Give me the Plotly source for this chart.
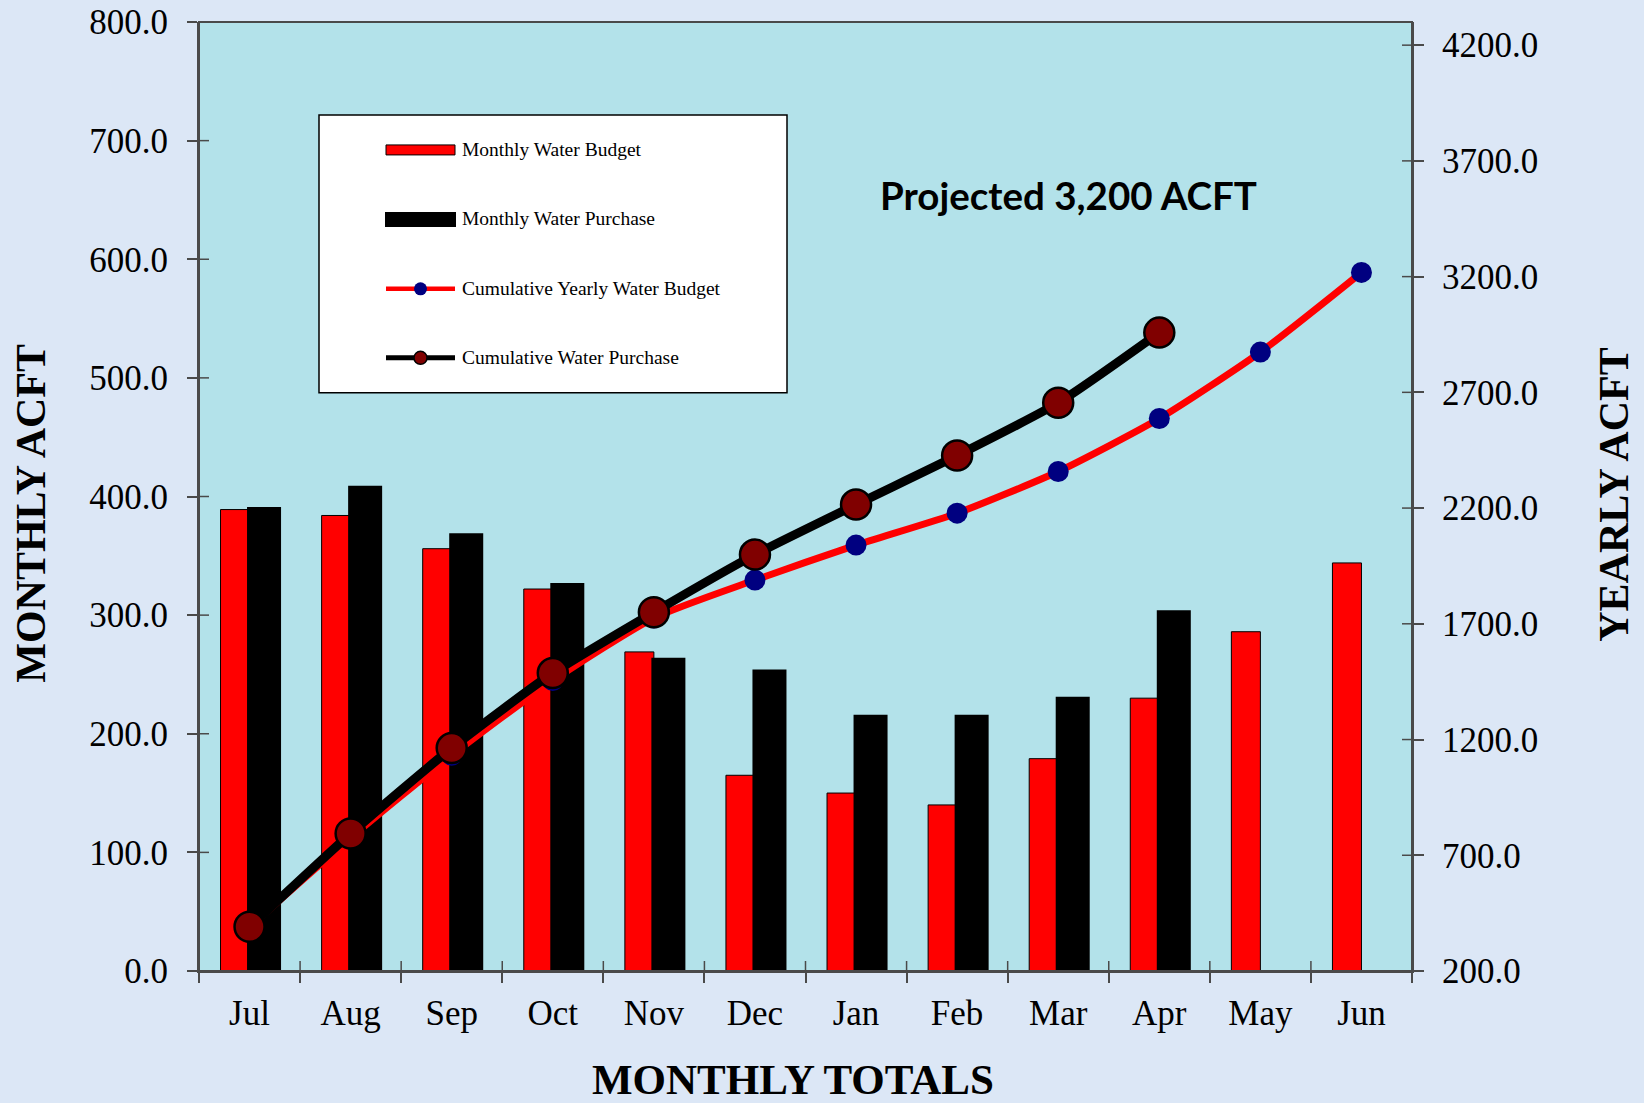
import plotly.graph_objects as go

# ---- data -------------------------------------------------------------
months = ["Jul", "Aug", "Sep", "Oct", "Nov", "Dec",
          "Jan", "Feb", "Mar", "Apr", "May", "Jun"]

monthly_budget = [389, 384, 356, 322, 269, 165, 150, 140, 179, 230, 286, 344]
monthly_purchase = [389, 407, 367, 325, 262, 252, 214, 214, 229, 302]

cumulative_budget = [390, 775, 1132, 1455, 1725, 1889, 2040, 2178, 2358, 2587, 2874, 3218]
cumulative_purchase = [391, 794, 1163, 1487, 1750, 1999, 2215, 2427, 2655, 2958]

left_ticks = [0, 100, 200, 300, 400, 500, 600, 700, 800]
right_ticks = [200, 700, 1200, 1700, 2200, 2700, 3200, 3700, 4200]

# ---- page geometry (pixels) -------------------------------------------
W, H = 1644, 1103
PL, PR, PT, PB = 199, 1412, 22, 971.5          # plot box edges
PW, PH = PR - PL, PB - PT


def px(x):
    return (x - PL) / PW


def py(y):
    return (PB - y) / PH


SERIF = "Liberation Serif, Times New Roman, serif"
AXIS_COL = "#4a4a4a"

fig = go.Figure()

fig.add_trace(go.Bar(
    x=months, y=monthly_budget, name="Monthly Water Budget",
    marker=dict(color="#FF0000", line=dict(color="#000000", width=1)),
    showlegend=False,
))
fig.add_trace(go.Bar(
    x=months[:len(monthly_purchase)], y=monthly_purchase, name="Monthly Water Purchase",
    marker=dict(color="#000000", line=dict(color="#000000", width=5)),
    showlegend=False,
))
fig.add_trace(go.Scatter(
    x=months, y=cumulative_budget, yaxis="y2", name="Cumulative Yearly Water Budget",
    mode="lines+markers",
    line=dict(color="#FF0000", width=7, shape="spline", smoothing=0.6),
    marker=dict(color="#000080", size=21, line=dict(width=0)),
    showlegend=False,
))
fig.add_trace(go.Scatter(
    x=months[:len(cumulative_purchase)], y=cumulative_purchase, yaxis="y2",
    name="Cumulative Water Purchase",
    mode="lines+markers",
    line=dict(color="#000000", width=9, shape="spline", smoothing=0.6),
    marker=dict(color="#800000", size=30, line=dict(color="#000000", width=2.5)),
    showlegend=False,
))

shapes = []

# plot-area frame
shapes.append(dict(type="rect", xref="paper", yref="paper", x0=0, x1=1, y0=0, y1=1,
                   line=dict(color=AXIS_COL, width=2), layer="above"))

# inner halves of the crossing tick marks
for i in range(1, len(months)):
    shapes.append(dict(type="line", xref="x", yref="paper", x0=i - 0.5, x1=i - 0.5,
                       ysizemode="pixel", yanchor=0, y0=0, y1=10,
                       line=dict(color=AXIS_COL, width=1.5)))
for v in left_ticks:
    shapes.append(dict(type="line", xref="paper", yref="y", xsizemode="pixel", xanchor=0,
                       x0=0, x1=10, y0=v, y1=v, line=dict(color=AXIS_COL, width=1.5)))
for v in right_ticks:
    shapes.append(dict(type="line", xref="paper", yref="y2", xsizemode="pixel", xanchor=1,
                       x0=-10, x1=0, y0=v, y1=v, line=dict(color=AXIS_COL, width=1.5)))

# legend box and symbols
shapes.append(dict(type="rect", xref="paper", yref="paper",
                   x0=px(319), x1=px(787), y0=py(393), y1=py(115),
                   fillcolor="#FFFFFF", line=dict(color="#000000", width=1.5)))
shapes.append(dict(type="rect", xref="paper", yref="paper",
                   x0=px(386), x1=px(455), y0=py(155), y1=py(145),
                   fillcolor="#FF0000", line=dict(color="#000000", width=1)))
shapes.append(dict(type="rect", xref="paper", yref="paper",
                   x0=px(386), x1=px(455), y0=py(226), y1=py(213),
                   fillcolor="#000000", line=dict(color="#000000", width=2)))
shapes.append(dict(type="line", xref="paper", yref="paper",
                   x0=px(386), x1=px(455), y0=py(289), y1=py(289),
                   line=dict(color="#FF0000", width=4.5)))
shapes.append(dict(type="circle", xref="paper", yref="paper",
                   x0=px(414), x1=px(427), y0=py(295.5), y1=py(282.5),
                   fillcolor="#000080", line=dict(width=0)))
shapes.append(dict(type="line", xref="paper", yref="paper",
                   x0=px(386), x1=px(455), y0=py(358), y1=py(358),
                   line=dict(color="#000000", width=5)))
shapes.append(dict(type="circle", xref="paper", yref="paper",
                   x0=px(414), x1=px(427), y0=py(364.5), y1=py(351.5),
                   fillcolor="#800000", line=dict(color="#000000", width=1.5)))

legend_labels = ["Monthly Water Budget", "Monthly Water Purchase",
                 "Cumulative Yearly Water Budget", "Cumulative Water Purchase"]
legend_rows = [150, 219, 289, 358]

annotations = []
for label, row in zip(legend_labels, legend_rows):
    annotations.append(dict(text=label, xref="paper", yref="paper", x=px(460), y=py(row),
                            xanchor="left", yanchor="middle", showarrow=False,
                            font=dict(family=SERIF, size=19.5, color="#000000")))

annotations.append(dict(text="<b>Projected 3,200 ACFT</b>", xref="paper", yref="paper",
                        x=px(1068), y=py(195), xanchor="center", yanchor="middle",
                        showarrow=False,
                        font=dict(family="Lato, Open Sans, sans-serif", size=38.5, color="#000000")))
annotations.append(dict(text="<b>MONTHLY ACFT</b>", xref="paper", yref="paper",
                        x=px(31), y=py(514), xanchor="center", yanchor="middle",
                        textangle=-90, showarrow=False,
                        font=dict(family=SERIF, size=42, color="#000000")))
annotations.append(dict(text="<b>YEARLY ACFT</b>", xref="paper", yref="paper",
                        x=px(1614), y=py(495), xanchor="center", yanchor="middle",
                        textangle=-90, showarrow=False,
                        font=dict(family=SERIF, size=42, color="#000000")))
annotations.append(dict(text="<b>MONTHLY TOTALS</b>", xref="paper", yref="paper",
                        x=px(793), y=py(1080), xanchor="center", yanchor="middle",
                        showarrow=False,
                        font=dict(family=SERIF, size=43, color="#000000")))

tick_font = dict(family=SERIF, size=35, color="#000000")

fig.update_layout(
    width=W, height=H,
    margin=dict(l=PL, r=W - PR, t=PT, b=H - PB, pad=0, autoexpand=False),
    paper_bgcolor="#dce7f6",
    plot_bgcolor="#b3e2ea",
    barmode="group", bargap=0.426, bargroupgap=0,
    showlegend=False,
    xaxis=dict(
        type="category", categoryorder="array", categoryarray=months,
        range=[-0.5, len(months) - 0.5],
        tickson="boundaries", ticks="outside", ticklen=10, tickwidth=1.5,
        tickcolor=AXIS_COL, showline=True, linecolor=AXIS_COL, linewidth=2,
        showgrid=False, zeroline=False, tickfont=tick_font, ticklabelstandoff=10,
    ),
    yaxis=dict(
        range=[0, 800], tickvals=left_ticks, tickformat=".1f",
        ticks="outside", ticklen=10, tickwidth=1.5, tickcolor=AXIS_COL,
        showline=True, linecolor=AXIS_COL, linewidth=2,
        showgrid=False, zeroline=False, tickfont=tick_font, ticklabelstandoff=12,
    ),
    yaxis2=dict(
        overlaying="y", side="right",
        range=[200, 4300], tickvals=right_ticks, tickformat=".1f",
        ticks="outside", ticklen=10, tickwidth=1.5, tickcolor=AXIS_COL,
        showline=True, linecolor=AXIS_COL, linewidth=2,
        showgrid=False, zeroline=False, tickfont=tick_font, ticklabelstandoff=11,
    ),
    shapes=shapes,
    annotations=annotations,
)

fig.write_html("out.html")
